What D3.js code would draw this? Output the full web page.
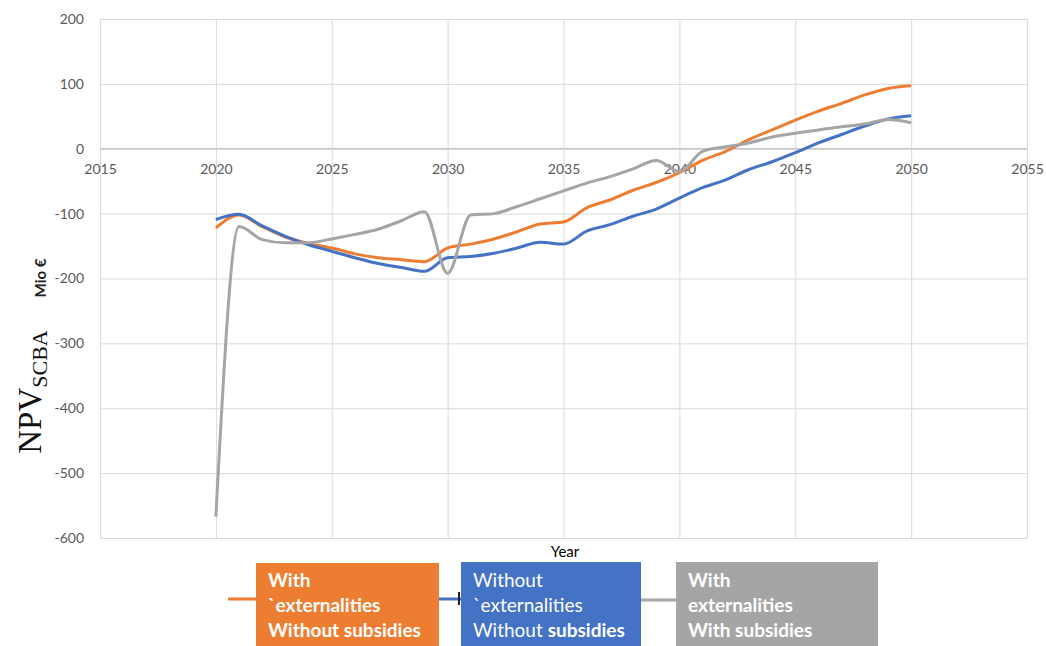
<!DOCTYPE html>
<meta charset='utf-8'>
<style>
  body {
    margin: 0;
    font-family: Lato, 'Open Sans', sans-serif;
    background: #fff;
  }
  .grid line { stroke: #d9d9d9; stroke-width: 1; }
  .grid path { display: none; }
  .axisX text, .axisY text { fill: #595959; font-size: 14px; font-family: Lato, sans-serif; }
  .axisX path, .axisY path { display: none; }
  .legendText { fill: #fff; font-size: 19px; }
</style>
<body>
<div id='viz'></div>
<script src='https://d3js.org/d3.v7.min.js'></script>
<script>

// Data (Mio €)
var years = d3.range(2020, 2051);
var withExtNoSubs = [-122, -102, -120, -136, -146, -153, -162, -168, -171, -174,
                     -153, -147, -139, -128, -116, -113, -91, -79, -64, -52,
                     -37, -18, -4, 14, 29, 44, 58, 70, 83, 93, 97];
var noExtNoSubs   = [-109, -101, -119, -135, -148, -158, -168, -177, -183, -189,
                     -168, -166, -161, -153, -144, -147, -127, -117, -104, -93,
                     -76, -60, -48, -32, -20, -6, 9, 22, 35, 46, 51];
var withExtSubs   = [-567, -120, -140, -145, -145, -139, -132, -124, -111, -97,
                     -192, -102, -100, -89, -77, -65, -53, -43, -31, -18,
                     -35, -4, 3, 9, 18, 24, 29, 34, 38, 45, 40];
var xTicks = [2015, 2020, 2025, 2030, 2035, 2040, 2045, 2050, 2055];
var yTicks = [200, 100, 0, -100, -200, -300, -400, -500, -600];

var series = [
  {name: 'orange', values: withExtNoSubs, color: '#ed7d31'},
  {name: 'blue',   values: noExtNoSubs,   color: '#4472c4'},
  {name: 'gray',   values: withExtSubs,   color: '#a5a5a5'}
];

// Dimensions
var margin = {top: 19, right: 19, bottom: 108, left: 100},
    width = 1046 - margin.left - margin.right,
    height = 646 - margin.top - margin.bottom;

var xScale = d3.scaleLinear().domain([2015, 2055]).range([0, width]),
    yScale = d3.scaleLinear().domain([-600, 200]).range([height, 0]);

var svg = d3.select('#viz').append('svg')
    .attr('width', 1046)
    .attr('height', 646);

var g = svg.append('g')
    .attr('transform', 'translate(' + margin.left + ',' + margin.top + ')');

// Gridlines
g.append('g')
    .attr('class', 'grid')
    .call(d3.axisLeft(yScale).tickValues(yTicks).tickSize(-width).tickFormat(''));

g.append('g')
    .attr('class', 'grid')
    .attr('transform', 'translate(0,' + height + ')')
    .call(d3.axisBottom(xScale).tickValues(xTicks).tickSize(-height).tickFormat(''));

// Zero line, a bit darker
g.append('line')
    .attr('x1', 0).attr('x2', width)
    .attr('y1', yScale(0)).attr('y2', yScale(0))
    .attr('stroke', '#c8c8c8')
    .attr('stroke-width', 1.5);

// Axes (x labels sit on the zero line)
g.append('g')
    .attr('class', 'axisX')
    .attr('transform', 'translate(0,' + yScale(0) + ')')
    .call(d3.axisBottom(xScale).tickValues(xTicks).tickSize(0).tickPadding(15).tickFormat(String));

g.append('g')
    .attr('class', 'axisY')
    .call(d3.axisLeft(yScale).tickValues(yTicks).tickSize(0).tickPadding(16).tickFormat(String));

// Lines
var line = d3.line()
    .x(function(d, i) { return xScale(years[i]); })
    .y(function(d) { return yScale(d); })
    .curve(d3.curveMonotoneX);

g.selectAll('.series')
    .data(series)
    .enter().append('path')
    .attr('class', 'series')
    .attr('fill', 'none')
    .attr('stroke', function(d) { return d.color; })
    .attr('stroke-width', 3)
    .attr('stroke-linejoin', 'round')
    .attr('d', function(d) { return line(d.values); });

// Axis titles
svg.append('text')
    .attr('transform', 'translate(46,278) rotate(-90)')
    .attr('text-anchor', 'middle')
    .attr('font-size', 15)
    .attr('font-weight', 700)
    .attr('fill', '#222')
    .text('Mio €');

var npv = svg.append('text')
    .attr('transform', 'translate(41,392) rotate(-90)')
    .attr('text-anchor', 'middle')
    .attr('font-family', "'Liberation Serif', 'DejaVu Serif', serif")
    .attr('fill', '#111');
npv.append('tspan').attr('font-size', 33).text('NPV');
npv.append('tspan').attr('font-size', 22).attr('dy', 6).text('SCBA');

svg.append('text')
    .attr('x', 565)
    .attr('y', 557)
    .attr('text-anchor', 'middle')
    .attr('font-size', 15)
    .attr('fill', '#000')
    .text('Year');

// Legend: line keys partly covered by coloured text boxes
svg.append('line').attr('x1', 228).attr('x2', 262).attr('y1', 599).attr('y2', 599)
    .attr('stroke', '#ed7d31').attr('stroke-width', 3);
svg.append('line').attr('x1', 436).attr('x2', 462).attr('y1', 599).attr('y2', 599)
    .attr('stroke', '#4472c4').attr('stroke-width', 3);
svg.append('rect').attr('x', 458).attr('y', 592).attr('width', 2).attr('height', 13)
    .attr('fill', '#222');
svg.append('line').attr('x1', 638).attr('x2', 678).attr('y1', 600).attr('y2', 600)
    .attr('stroke', '#a5a5a5').attr('stroke-width', 3);

var boxes = [
  {x: 256, y: 563, w: 183, color: '#ed7d31',
   lines: [[['With', 700]], [['`externalities', 700]], [['Without subsidies', 700]]]},
  {x: 461, y: 562, w: 180, color: '#4472c4',
   lines: [[['Without', 400]], [['`externalities', 400]], [['Without ', 400], ['subsidies', 700]]]},
  {x: 676, y: 562, w: 202, color: '#a5a5a5',
   lines: [[['With', 700]], [['externalities', 700]], [['With subsidies', 700]]]}
];

var box = svg.selectAll('.legendBox')
    .data(boxes)
    .enter().append('g')
    .attr('class', 'legendBox');

box.append('rect')
    .attr('x', function(d) { return d.x; })
    .attr('y', function(d) { return d.y; })
    .attr('width', function(d) { return d.w; })
    .attr('height', function(d) { return 646 - d.y; })
    .attr('fill', function(d) { return d.color; });

box.each(function(d) {
  var b = d3.select(this);
  d.lines.forEach(function(parts, i) {
    var t = b.append('text')
        .attr('class', 'legendText')
        .attr('x', d.x + 12)
        .attr('y', 587 + i * 25);
    parts.forEach(function(p) {
      t.append('tspan').attr('font-weight', p[1]).text(p[0]);
    });
  });
});

</script>
</body>
